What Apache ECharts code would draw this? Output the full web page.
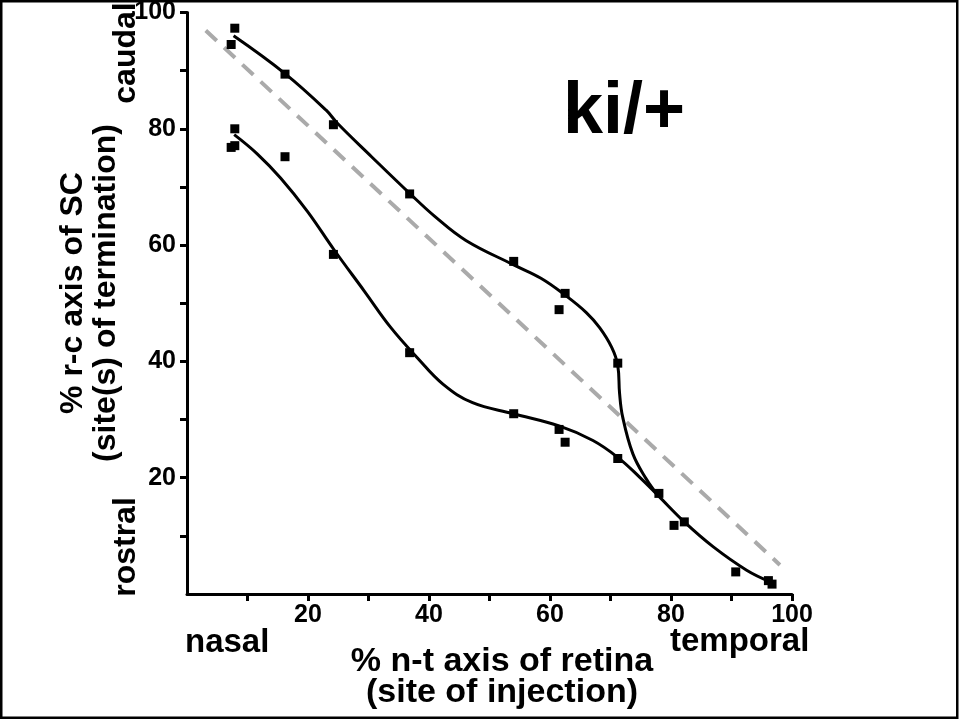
<!DOCTYPE html>
<html>
<head>
<meta charset="utf-8">
<script src="https://cdn.jsdelivr.net/npm/echarts@6/dist/echarts.min.js"></script>
<style>
  html, body { margin: 0; padding: 0; background: #fff; }
  #chart { width: 959px; height: 719px; }
</style>
</head>
<body>
<div id="chart"></div>
<script>
// ---- data ----
const xTickValues = [10, 20, 30, 40, 50, 60, 70, 80, 90, 100];
const yTickValues = [10, 20, 30, 40, 50, 60, 70, 80, 90, 100];
const xLabelValues = [20, 40, 60, 80, 100];
const yLabelValues = [20, 40, 60, 80, 100];

// measured termination sites (caudal-most / upper branch)
const upperPoints = [
  [7.9, 97.3], [7.3, 94.5], [16.2, 89.4], [24.2, 80.7], [36.8, 68.8],
  [54.0, 57.2], [62.5, 51.7], [61.5, 48.9], [71.2, 39.7]
];
// measured termination sites (rostral-most / lower branch)
const lowerPoints = [
  [7.9, 80.0], [7.3, 76.8], [7.9, 77.1], [16.2, 75.2], [24.2, 58.4],
  [36.8, 41.5], [54.0, 31.0], [61.5, 28.3], [62.5, 26.1], [71.2, 23.3],
  [78.0, 17.3], [80.5, 11.8], [82.2, 12.4], [90.7, 3.8], [96.1, 2.3], [96.7, 1.7]
];
// fitted curves
const upperCurve = [
  [7.7, 96.0], [16.2, 89.5], [23.0, 83.2], [24.9, 80.9], [30.5, 75.2],
  [36.8, 68.9], [41.0, 64.9], [46.1, 60.8], [54.0, 56.6], [58.5, 54.3],
  [62.5, 51.4], [66.0, 48.4], [68.2, 45.8], [70.2, 42.4], [71.2, 39.3],
  [71.5, 34.5], [72.0, 30.5], [73.7, 24.1], [75.9, 19.8], [77.8, 17.0]
];
const lowerCurve = [
  [7.8, 79.0], [11.6, 75.7], [15.5, 71.5], [19.9, 65.8], [24.3, 59.2],
  [29.3, 52.1], [33.7, 45.8], [38.1, 40.6], [42.3, 36.1], [47.2, 32.9],
  [54.0, 31.0], [61.5, 28.9], [67.1, 26.4], [71.2, 23.5], [74.8, 20.1],
  [77.8, 17.0], [82.2, 12.4], [87.0, 8.1], [92.5, 4.1], [96.4, 2.1]
];
// dashed reference diagonal
const diagonal = [[3.1, 96.9], [98.0, 5.0]];

// ---- chart ----
const FONT = '"Liberation Sans", Arial, Helvetica, sans-serif';
const chart = echarts.init(document.getElementById('chart'), null, { renderer: 'canvas' });

const axisCommon = {
  type: 'value',
  min: 0,
  max: 100,
  interval: 10,
  splitLine: { show: false },
  axisLine: { show: true, lineStyle: { color: '#000', width: 3 } },
  axisTick: { show: true, length: 7, lineStyle: { color: '#000', width: 3 } },
  axisLabel: {
    color: '#000', fontFamily: FONT, fontWeight: 'bold', fontSize: 25, margin: 11
  }
};

chart.setOption({
  animation: false,
  backgroundColor: '#fff',
  grid: { left: 187, top: 10, right: 167, bottom: 125, containLabel: false },
  xAxis: Object.assign({}, axisCommon, {
    axisTick: Object.assign({}, axisCommon.axisTick, { customValues: xTickValues }),
    axisLabel: Object.assign({}, axisCommon.axisLabel, { customValues: xLabelValues, margin: 9 })
  }),
  yAxis: Object.assign({}, axisCommon, {
    axisTick: Object.assign({}, axisCommon.axisTick, { customValues: yTickValues }),
    axisLabel: Object.assign({}, axisCommon.axisLabel, { customValues: yLabelValues, margin: 11 })
  }),
  series: [
    {
      type: 'line', data: diagonal, symbol: 'none', z: 1,
      lineStyle: { color: '#aaaaaa', width: 4, type: [15, 10] }
    },
    {
      type: 'line', data: upperCurve, symbol: 'none', smooth: 0.4, z: 2,
      lineStyle: { color: '#000', width: 3 }
    },
    {
      type: 'line', data: lowerCurve, symbol: 'none', smooth: 0.4, z: 2,
      lineStyle: { color: '#000', width: 3 }
    },
    {
      type: 'scatter', data: upperPoints, symbol: 'rect', symbolSize: 9, z: 3,
      itemStyle: { color: '#000', opacity: 1 }
    },
    {
      type: 'scatter', data: lowerPoints, symbol: 'rect', symbolSize: 9, z: 3,
      itemStyle: { color: '#000', opacity: 1 }
    }
  ],
  graphic: [
    {
      type: 'rect', z: 100, silent: true,
      shape: { x: 1.25, y: 1.25, width: 956, height: 716.5 },
      style: { fill: 'none', stroke: '#000', lineWidth: 2.5 }
    },
    {
      type: 'text', x: 563, y: 113, z: 50,
      style: { text: 'ki/+', font: 'bold 72px ' + FONT, fill: '#000', align: 'left', verticalAlign: 'middle' }
    },
    {
      type: 'text', x: 126, y: 53, rotation: Math.PI / 2, z: 50,
      style: { text: 'caudal', font: 'bold 32px ' + FONT, fill: '#000', align: 'center', verticalAlign: 'middle' }
    },
    {
      type: 'text', x: 126, y: 547, rotation: Math.PI / 2, z: 50,
      style: { text: 'rostral', font: 'bold 32px ' + FONT, fill: '#000', align: 'center', verticalAlign: 'middle' }
    },
    {
      type: 'text', x: 90, y: 293, rotation: Math.PI / 2, z: 50,
      style: {
        text: '% r-c axis of SC\n(site(s) of termination)', font: 'bold 32px ' + FONT,
        lineHeight: 33, fill: '#000', align: 'center', verticalAlign: 'middle'
      }
    },
    {
      type: 'text', x: 185, y: 643, z: 50,
      style: { text: 'nasal', font: 'bold 33px ' + FONT, fill: '#000', align: 'left', verticalAlign: 'middle' }
    },
    {
      type: 'text', x: 670, y: 642, z: 50,
      style: { text: 'temporal', font: 'bold 33px ' + FONT, fill: '#000', align: 'left', verticalAlign: 'middle' }
    },
    {
      type: 'text', x: 502, y: 677, z: 50,
      style: {
        text: '% n-t axis of retina\n(site of injection)', font: 'bold 34px ' + FONT,
        lineHeight: 31, fill: '#000', align: 'center', verticalAlign: 'middle'
      }
    }
  ]
});
</script>
</body>
</html>
